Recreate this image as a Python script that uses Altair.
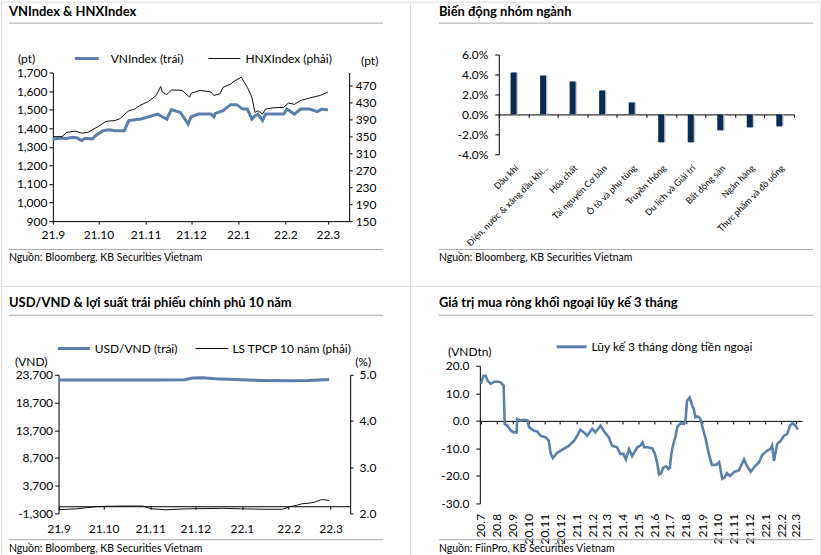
import altair as alt
import pandas as pd

FONT = "Lato, 'Noto Sans', sans-serif"
BLUE = "#5b7fac"
BLACK = "#111111"
NAVY = "#0b2b53"
SEP = "#a9a9a9"

# ---------------- data ----------------
vn_dates = ["2021-09-01", "2021-09-07", "2021-09-10", "2021-09-14", "2021-09-17", "2021-09-20",
            "2021-09-22", "2021-09-27", "2021-09-29", "2021-10-04", "2021-10-08", "2021-10-12",
            "2021-10-18", "2021-10-21", "2021-10-25", "2021-10-29", "2021-11-03", "2021-11-09",
            "2021-11-12", "2021-11-15", "2021-11-18", "2021-11-24", "2021-11-29", "2021-12-01",
            "2021-12-06", "2021-12-14", "2021-12-16", "2021-12-17", "2021-12-22", "2021-12-27",
            "2021-12-31", "2022-01-04", "2022-01-07", "2022-01-10", "2022-01-12", "2022-01-14",
            "2022-01-17", "2022-01-19", "2022-01-26", "2022-01-31", "2022-02-02", "2022-02-07",
            "2022-02-11", "2022-02-17", "2022-02-22", "2022-02-25", "2022-03-01"]
vn_values = [1342, 1347, 1345, 1351, 1348, 1333, 1346, 1342, 1360, 1387, 1392, 1387,
             1387, 1441, 1446, 1450, 1462, 1476, 1462, 1449, 1500, 1485, 1422, 1462,
             1476, 1476, 1462, 1480, 1494, 1527, 1527, 1503, 1503, 1449, 1467, 1476,
             1441, 1476, 1476, 1476, 1503, 1476, 1503, 1503, 1489, 1503, 1498]

hnx_dates = ["2021-09-01", "2021-09-07", "2021-09-10", "2021-09-16", "2021-09-20", "2021-09-24",
             "2021-09-28", "2021-10-01", "2021-10-06", "2021-10-12", "2021-10-15", "2021-10-21",
             "2021-10-25", "2021-10-28", "2021-11-03", "2021-11-08", "2021-11-11", "2021-11-12",
             "2021-11-15", "2021-11-18", "2021-11-25", "2021-11-30", "2021-12-01", "2021-12-07",
             "2021-12-14", "2021-12-16", "2021-12-20", "2021-12-22", "2021-12-27", "2021-12-30",
             "2022-01-03", "2022-01-05", "2022-01-07", "2022-01-10", "2022-01-12", "2022-01-14",
             "2022-01-17", "2022-01-19", "2022-01-24", "2022-01-31", "2022-02-03", "2022-02-07",
             "2022-02-11", "2022-02-17", "2022-02-24", "2022-03-01"]
hnx_values = [349, 349, 359, 362, 357, 359, 367, 373, 385, 387, 391, 410,
              414, 422, 432, 446, 467, 454, 448, 459, 458, 442, 451, 458,
              454, 446, 450, 465, 473, 481, 489, 477, 465, 442, 406, 410,
              402, 414, 417, 418, 428, 425, 434, 440, 446, 454]

sectors = ["Dầu khí", "Điện, nước & xăng dầu khí...", "Hóa chất", "Tài nguyên Cơ bản",
           "Ô tô và phụ tùng", "Truyền thông", "Du lịch và Giải trí", "Bất động sản",
           "Ngân hàng", "Thực phẩm và đồ uống"]
sector_change = [4.2, 3.9, 3.3, 2.4, 1.2, -2.8, -2.8, -1.6, -1.3, -1.2]

usd_dates = ["2021-09-01", "2021-09-21", "2021-10-13", "2021-11-05", "2021-11-24", "2021-11-29",
             "2021-12-06", "2021-12-14", "2021-12-31", "2022-01-14", "2022-02-01", "2022-02-14",
             "2022-02-28"]
usd_values = [22745, 22745, 22745, 22745, 22800, 23100, 23150, 22980, 22800, 22680, 22620, 22680,
              22860]

yield_dates = ["2021-09-01", "2021-09-13", "2021-09-27", "2021-10-13", "2021-10-27", "2021-11-02",
               "2021-11-11", "2021-11-26", "2021-12-20", "2021-12-31", "2022-01-14", "2022-01-28",
               "2022-02-01", "2022-02-07", "2022-02-10", "2022-02-14", "2022-02-18", "2022-02-23",
               "2022-02-28"]
yield_values = [2.08, 2.10, 2.15, 2.16, 2.16, 2.10, 2.08, 2.10, 2.11, 2.10, 2.09, 2.09,
                2.14, 2.18, 2.21, 2.22, 2.24, 2.30, 2.28]

flow_dates = ["2020-07-01", "2020-07-06", "2020-07-10", "2020-07-14", "2020-07-20", "2020-07-27",
              "2020-08-02", "2020-08-08", "2020-08-14", "2020-08-16", "2020-08-21", "2020-08-28",
              "2020-09-03", "2020-09-08", "2020-09-09", "2020-09-16", "2020-09-22", "2020-09-29",
              "2020-10-02", "2020-10-12", "2020-10-18", "2020-10-24", "2020-11-03", "2020-11-09",
              "2020-11-13", "2020-11-17", "2020-11-25", "2020-12-08", "2020-12-18", "2020-12-28",
              "2021-01-03", "2021-01-09", "2021-01-16", "2021-01-22", "2021-02-01", "2021-02-07",
              "2021-02-17", "2021-02-23", "2021-03-05", "2021-03-11", "2021-03-21", "2021-03-27",
              "2021-04-02", "2021-04-07", "2021-04-13", "2021-04-19", "2021-04-29", "2021-05-05",
              "2021-05-09", "2021-05-12", "2021-05-19", "2021-05-28", "2021-06-02", "2021-06-06",
              "2021-06-10", "2021-06-14", "2021-06-18", "2021-06-24", "2021-06-28", "2021-07-01",
              "2021-07-03", "2021-07-06", "2021-07-12", "2021-07-15", "2021-07-22", "2021-07-28",
              "2021-07-31", "2021-08-03", "2021-08-08", "2021-08-13", "2021-08-16", "2021-08-19",
              "2021-08-24", "2021-08-29", "2021-09-01", "2021-09-08", "2021-09-14", "2021-09-20",
              "2021-09-28", "2021-10-04", "2021-10-10", "2021-10-15", "2021-10-19", "2021-10-25",
              "2021-11-02", "2021-11-11", "2021-11-21", "2021-11-27", "2021-12-04", "2021-12-12",
              "2021-12-20", "2021-12-26", "2022-01-05", "2022-01-11", "2022-01-14", "2022-01-18",
              "2022-01-24", "2022-01-31", "2022-02-06", "2022-02-12", "2022-02-18", "2022-02-23",
              "2022-02-28", "2022-03-05"]
flow_values = [13.4, 16.4, 16.4, 14.6, 13.4, 14.2,
               14.3, 14.0, 12.8, -1.1, -1.7, -3.6,
               -4.2, -4.2, 0.7, 0.1, 0.4, 0.1,
               -2.3, -3.6, -3.9, -5.4, -6.0, -7.2,
               -12.0, -13.5, -11.6, -10.2, -9.0, -7.2,
               -5.4, -3.2, -4.2, -5.4, -2.9, -4.2,
               -1.7, -3.6, -6.0, -9.0, -9.6, -12.0,
               -12.0, -14.0, -10.2, -12.8, -9.6, -9.0,
               -7.8, -9.6, -9.6, -10.0, -12.0, -15.0,
               -19.5, -19.0, -17.0, -16.5, -17.5, -17.0,
               -13.0, -9.6, -5.4, -2.3, -0.8, -1.1,
               0.1, 7.3, 8.5, 5.5, 4.3, 1.3,
               1.6, 0.7, -1.7, -6.6, -12.0, -16.0,
               -16.0, -15.0, -21.0, -20.5, -19.0, -20.0,
               -18.5, -18.0, -14.0, -16.5, -18.5, -16.5,
               -15.0, -12.4, -10.8, -10.2, -9.0, -14.5,
               -8.4, -7.2, -5.4, -4.8, -1.7, -0.8,
               -1.7, -3.2]

ticks_21 = [(2021, 9), (2021, 10), (2021, 11), (2021, 12), (2022, 1), (2022, 2), (2022, 3)]
ticks_20 = [(2020, m) for m in range(7, 13)] + [(2021, m) for m in range(1, 13)] + \
           [(2022, m) for m in range(1, 4)]


# ---------------- helpers ----------------
ONE = alt.Data(values=[{"k": 1}])


def d(y, m, day=1):
    return alt.DateTime(year=y, month=m, date=day)


def frame(dates, values):
    return pd.DataFrame({"date": pd.to_datetime(dates), "v": values})


def txt(s, x, y, size=12, weight="normal", align="left", baseline="alphabetic", color="#000000"):
    return alt.Chart(ONE).mark_text(
        align=align, baseline=baseline, fontSize=size, fontWeight=weight, color=color, font=FONT
    ).encode(x=alt.value(x), y=alt.value(y), text=alt.value(s))


def hline(x1, x2, y, color, width):
    return alt.Chart(ONE).mark_rule(color=color, strokeWidth=width).encode(
        x=alt.value(x1), x2=alt.value(x2), y=alt.value(y))


AX = dict(grid=False, title=None, domainColor="#000000", tickColor="#000000",
          labelColor="#000000", labelFont=FONT, domainWidth=1, tickWidth=1)
LBL = 12

# ---------------- panel 1 ----------------
W1, H1 = 410, 285
x1 = alt.X("date:T",
           scale=alt.Scale(domain=[d(2021, 9, 1), d(2022, 3, 15)], range=[52, 349], nice=False),
           axis=alt.Axis(orient="bottom", offset=220 - H1, values=[d(y, m) for y, m in ticks_21],
                         format="%y.%-m", labelFlush=False, labelOverlap=False, tickSize=3,
                         labelPadding=5, labelFontSize=LBL, **AX))
vn = alt.Chart(frame(vn_dates, vn_values)).mark_line(color=BLUE, strokeWidth=3).encode(
    x=x1,
    y=alt.Y("v:Q", scale=alt.Scale(domain=[900, 1700], range=[220, 71], nice=False, zero=False),
            axis=alt.Axis(orient="left", offset=-52, values=list(range(900, 1701, 100)),
                          format=",.0f", tickSize=4, labelPadding=2, labelFontSize=LBL, **AX)))
hnx = alt.Chart(frame(hnx_dates, hnx_values)).mark_line(color=BLACK, strokeWidth=1).encode(
    x=x1,
    y=alt.Y("v:Q", scale=alt.Scale(domain=[150, 500], range=[220, 71], nice=False, zero=False),
            axis=alt.Axis(orient="right", offset=349 - W1, values=list(range(150, 471, 40)),
                          format="d", tickSize=3, labelPadding=3, labelFontSize=LBL, **AX)))
p1 = alt.layer(
    txt("VNIndex & HNXIndex", 8, 14.5, 13, "bold"),
    hline(8, 383, 21.5, SEP, 1),
    hline(74, 98, 57, BLUE, 3),
    txt("VNIndex (trái)", 110, 57, 12, baseline="middle"),
    hline(208, 240, 57, BLACK, 1),
    txt("HNXIndex (phải)", 245, 57, 12, baseline="middle"),
    txt("(pt)", 17, 57, 12, baseline="middle"),
    txt("(pt)", 361, 59, 12, baseline="middle"),
    vn, hnx,
    hline(8, 383, 248.5, SEP, 1),
    txt("Nguồn: Bloomberg, KB Securities Vietnam", 8, 259.5, 10.5),
).resolve_scale(y="independent").properties(width=W1, height=H1)

# ---------------- panel 2 ----------------
OX2 = 410
W2 = 411
bar_df = pd.DataFrame({"sector": sectors, "v": sector_change})
x2 = alt.X("sector:N", sort=sectors,
           scale=alt.Scale(domain=sectors, range=[499 - OX2, 795 - OX2], paddingInner=0,
                           paddingOuter=0),
           axis=alt.Axis(orient="bottom", offset=113 - H1, tickBand="extent", tickSize=3,
                         labelAngle=-45, labelPadding=46, labelLimit=250, labelFontSize=9,
                         labelOverlap=False, **AX))
y2 = alt.Y("v:Q", scale=alt.Scale(domain=[-4, 6], range=[153, 53], nice=False),
           axis=alt.Axis(orient="left", offset=-(499 - OX2), values=[-4, -2, 0, 2, 4, 6],
                         labelExpr="(datum.value < 0 ? '-' : '') + format(abs(datum.value), '.1f') + '%'",
                         tickSize=4, labelPadding=7, labelFontSize=LBL, **AX))
shadow = alt.Chart(bar_df).mark_bar(size=6, xOffset=1.5, color="#c3cad3").encode(x=x2, y=y2)
bars = alt.Chart(bar_df).mark_bar(size=6, color=NAVY).encode(x=x2, y=y2)
p2 = alt.layer(
    txt("Biến động nhóm ngành", 439 - OX2, 14.5, 13, "bold"),
    hline(439 - OX2, 814 - OX2, 21.5, SEP, 1),
    shadow, bars,
    hline(439 - OX2, 814 - OX2, 248.5, SEP, 1),
    txt("Nguồn: Bloomberg, KB Securities Vietnam", 439 - OX2, 259.5, 10.5),
).properties(width=W2, height=H1)

# ---------------- panel 3 ----------------
OY3 = 285
H3 = 270
x3 = alt.X("date:T",
           scale=alt.Scale(domain=[d(2021, 9, 1), d(2022, 3, 14)], range=[57.7, 350], nice=False),
           axis=alt.Axis(orient="bottom", offset=(505.8 - OY3) - H3,
                         values=[d(y, m) for y, m in ticks_21], format="%y.%-m",
                         labelFlush=False, labelOverlap=False, tickSize=3, labelPadding=14,
                         labelFontSize=LBL, **AX))
usd = alt.Chart(frame(usd_dates, usd_values)).mark_line(color=BLUE, strokeWidth=3).encode(
    x=x3,
    y=alt.Y("v:Q", scale=alt.Scale(domain=[-1300, 23700], range=[513 - OY3, 374 - OY3],
                                   nice=False, zero=False),
            axis=alt.Axis(orient="left", offset=-57.7, values=list(range(-1300, 23701, 5000)),
                          labelExpr="(datum.value < 0 ? '-' : '') + format(abs(datum.value), ',')",
                          tickSize=4, labelPadding=2, labelFontSize=LBL, **AX)))
yld = alt.Chart(frame(yield_dates, yield_values)).mark_line(color=BLACK, strokeWidth=1).encode(
    x=x3,
    y=alt.Y("v:Q", scale=alt.Scale(domain=[2.0, 5.0], range=[513 - OY3, 374 - OY3],
                                   nice=False, zero=False),
            axis=alt.Axis(orient="right", offset=350 - W1, values=[2.0, 3.0, 4.0, 5.0],
                          format=".1f", tickSize=3, labelPadding=6, labelFontSize=LBL, **AX)))
p3 = alt.layer(
    txt("USD/VND & lợi suất trái phiếu chính phủ 10 năm", 8, 305.7 - OY3, 13, "bold"),
    hline(8, 383, 314.3 - OY3, SEP, 1),
    hline(57, 89, 347.7 - OY3, BLUE, 3),
    txt("USD/VND (trái)", 94, 347.7 - OY3, 12, baseline="middle"),
    hline(195, 228, 347.7 - OY3, BLACK, 1),
    txt("LS TPCP 10 năm (phải)", 232, 347.7 - OY3, 12, baseline="middle"),
    txt("(VND)", 14, 361 - OY3, 12, baseline="middle"),
    txt("(%)", 355, 361 - OY3, 12, baseline="middle"),
    usd, yld,
    hline(8, 383, 539.3 - OY3, SEP, 1),
    txt("Nguồn: Bloomberg, KB Securities Vietnam", 8, 551.5 - OY3, 10.5),
).resolve_scale(y="independent").properties(width=W1, height=H3)

# ---------------- panel 4 ----------------
x4 = alt.X("date:T",
           scale=alt.Scale(domain=[d(2020, 6, 29), d(2022, 3, 13)], range=[480 - OX2, 803 - OX2],
                           nice=False),
           axis=alt.Axis(orient="bottom", offset=(420.2 - OY3) - H3,
                         values=[d(y, m) for y, m in ticks_20], format="%y.%-m",
                         labelFlush=False, labelOverlap=False, labelAngle=270, tickSize=3,
                         labelPadding=(513 - 420.2) - 3, labelFontSize=LBL, **AX))
flow = alt.Chart(frame(flow_dates, flow_values)).mark_line(color=BLUE, strokeWidth=2.6).encode(
    x=x4,
    y=alt.Y("v:Q", scale=alt.Scale(domain=[-30, 20], range=[503 - OY3, 365 - OY3], nice=False,
                                   zero=False),
            axis=alt.Axis(orient="left", offset=-(480 - OX2), values=[-30, -20, -10, 0, 10, 20],
                          labelExpr="(datum.value < 0 ? '-' : '') + format(abs(datum.value), '.1f')",
                          tickSize=4, labelPadding=7, labelFontSize=LBL, **AX)))
p4 = alt.layer(
    txt("Giá trị mua ròng khối ngoại lũy kế 3 tháng", 439 - OX2, 305.7 - OY3, 13, "bold"),
    hline(439 - OX2, 814 - OX2, 314.3 - OY3, SEP, 1),
    hline(557 - OX2, 587 - OX2, 346 - OY3, BLUE, 3),
    txt("Lũy kế 3 tháng dòng tiền ngoại", 592 - OX2, 346 - OY3, 12, baseline="middle"),
    txt("(VNDtn)", 448 - OX2, 351 - OY3, 12, baseline="middle"),
    flow,
    hline(439 - OX2, 814 - OX2, 539.3 - OY3, SEP, 1),
    txt("Nguồn: FiinPro, KB Securities Vietnam", 439 - OX2, 551.5 - OY3, 10.5),
).properties(width=W2, height=H3)

chart = alt.concat(p1, p2, p3, p4, columns=2, spacing=0, bounds="flush").properties(
    padding=0, background="white"
).configure_view(stroke=None).configure(font=FONT)

chart.save("out.html", embed_options={"renderer": "svg", "actions": False})
